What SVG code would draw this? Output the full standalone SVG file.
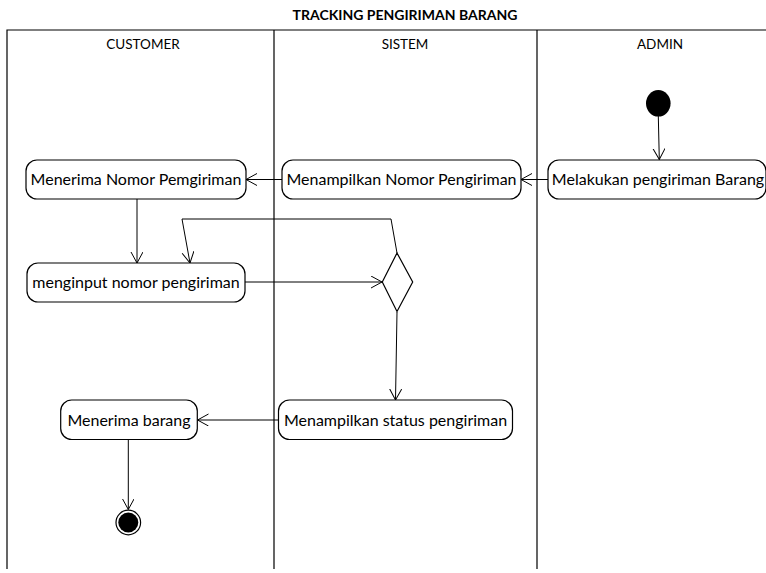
<svg xmlns="http://www.w3.org/2000/svg" width="766" height="573" viewBox="0 0 766 573">
  <style>
    .lane { fill: none; stroke: #000; stroke-width: 1.2; }
    .title { font-family: Lato, "Liberation Sans", sans-serif; font-size: 14px; font-weight: bold; text-anchor: middle; fill: #000; }
    .head { font-family: Lato, "Liberation Sans", sans-serif; font-size: 13.5px; text-anchor: middle; fill: #000; }
    .act rect { fill: #fff; stroke: #000; stroke-width: 1.2; }
    .act text { font-family: Lato, "Liberation Sans", sans-serif; font-size: 16px; text-anchor: middle; fill: #000; }
    .edge { fill: none; stroke: #000; stroke-width: 1; marker-end: url(#arrow); }
  </style>
  <defs>
    <marker id="arrow" markerUnits="userSpaceOnUse" markerWidth="14" markerHeight="14" refX="11" refY="6" orient="auto">
      <path d="M0,0 L11,6 L0,12" fill="none" stroke="#000" stroke-width="1"/>
    </marker>
  </defs>

  <rect width="766" height="573" fill="#fff"/>

  <!-- title and swimlanes -->
  <text class="title" x="405" y="20">TRACKING PENGIRIMAN BARANG</text>
  <g id="lanes">
    <path class="lane" d="M7,569 V30 H766 M274,30 V569 M537,30 V569"/>
    <text class="head" x="143" y="49">CUSTOMER</text>
    <text class="head" x="405" y="49">SISTEM</text>
    <text class="head" x="660" y="49">ADMIN</text>
  </g>

  <!-- connectors -->
  <g id="connectors">
    <line class="edge" x1="658.3" y1="116" x2="659.3" y2="159.5"/>
    <line class="edge" x1="548" y1="179.5" x2="521" y2="179.5"/>
    <line class="edge" x1="282" y1="179.5" x2="246" y2="179.5"/>
    <line class="edge" x1="137" y1="199" x2="137" y2="263"/>
    <polyline class="edge" points="397,253 391,219 182,219 190,263"/>
    <line class="edge" x1="245" y1="282" x2="382" y2="282"/>
    <line class="edge" x1="397" y1="312" x2="395.5" y2="400"/>
    <line class="edge" x1="278" y1="420" x2="197.5" y2="420"/>
    <line class="edge" x1="128.3" y1="439.5" x2="128.3" y2="509.5"/>
  </g>

  <!-- start -->
  <g id="start">
    <ellipse cx="658.3" cy="103.3" rx="12.3" ry="13.2" fill="#000"/>
  </g>

  <!-- actions -->
  <g id="melakukan-pengiriman" class="act">
    <rect x="548" y="160" width="218" height="39" rx="11"/>
    <text x="658" y="185">Melakukan pengiriman Barang</text>
  </g>
  <g id="menampilkan-nomor" class="act">
    <rect x="282" y="160" width="239" height="39" rx="11"/>
    <text x="401.5" y="185">Menampilkan Nomor Pengiriman</text>
  </g>
  <g id="menerima-nomor" class="act">
    <rect x="26" y="160" width="220" height="39" rx="11"/>
    <text x="136" y="185">Menerima Nomor Pemgiriman</text>
  </g>
  <g id="menginput-nomor" class="act">
    <rect x="27" y="263" width="218" height="39" rx="11"/>
    <text x="136" y="288">menginput nomor pengiriman</text>
  </g>

  <!-- decision -->
  <g id="decision">
    <polygon points="397,253 412.7,282 397,311.5 382.3,282" fill="#fff" stroke="#000" stroke-width="1.2"/>
  </g>

  <g id="menampilkan-status" class="act">
    <rect x="278.5" y="400" width="234" height="39.5" rx="11"/>
    <text x="395.5" y="425.5">Menampilkan status pengiriman</text>
  </g>
  <g id="menerima-barang" class="act">
    <rect x="60.7" y="400" width="136.6" height="39.5" rx="11"/>
    <text x="129" y="425.5">Menerima barang</text>
  </g>

  <!-- end -->
  <g id="end">
    <circle cx="128.3" cy="522.5" r="12.3" fill="#fff" stroke="#000" stroke-width="1.2"/>
    <circle cx="128.3" cy="522.5" r="10" fill="#000"/>
  </g>
</svg>
